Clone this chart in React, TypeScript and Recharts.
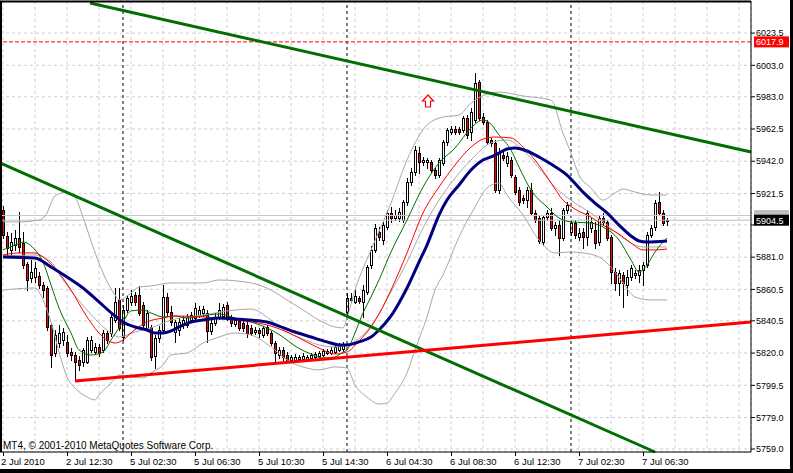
import React from 'react';
import { ComposedChart, Bar, Line, XAxis, YAxis, CartesianGrid, ReferenceLine, ReferenceDot } from 'recharts';

const FONT = '"Liberation Sans", Arial, sans-serif';

// open, high, low, close for each 15-minute bar
const candles: [number, number, number, number][] = [
  [5911.0, 5913.5, 5893.2, 5895.1], [5894.5, 5897.0, 5882.4, 5886.8], [5885.6, 5896.4, 5881.1, 5890.6], [5888.7, 5898.3, 5885.6, 5893.2],
  [5893.2, 5909.7, 5884.3, 5887.5], [5890.0, 5897.0, 5874.1, 5876.0], [5876.7, 5877.9, 5860.1, 5866.5], [5867.7, 5879.2, 5865.2, 5871.6],
  [5868.4, 5877.9, 5865.2, 5874.1], [5869.0, 5871.6, 5861.4, 5863.3], [5863.3, 5865.2, 5855.7, 5860.1], [5861.4, 5862.7, 5834.7, 5836.6],
  [5837.9, 5839.1, 5811.2, 5818.8], [5820.1, 5834.7, 5818.2, 5831.5], [5826.4, 5837.9, 5823.9, 5832.8], [5828.3, 5836.0, 5825.2, 5833.4],
  [5827.1, 5831.5, 5818.2, 5820.1], [5820.7, 5823.2, 5815.6, 5818.8], [5818.8, 5820.7, 5802.3, 5814.3], [5815.6, 5818.2, 5809.3, 5812.4],
  [5814.3, 5823.2, 5811.8, 5822.0], [5814.3, 5830.2, 5813.7, 5828.3], [5822.0, 5830.9, 5820.7, 5828.3], [5820.7, 5826.4, 5819.4, 5823.9],
  [5823.9, 5825.8, 5818.2, 5820.1], [5822.0, 5834.7, 5820.7, 5832.8], [5832.8, 5834.7, 5826.4, 5828.3], [5832.8, 5845.5, 5830.9, 5843.0],
  [5841.0, 5861.4, 5839.8, 5852.5], [5853.8, 5861.4, 5834.7, 5836.0], [5830.2, 5850.6, 5828.3, 5847.4], [5847.4, 5857.0, 5846.1, 5855.0],
  [5852.5, 5860.1, 5850.6, 5856.3], [5857.0, 5858.9, 5850.6, 5852.5], [5857.0, 5862.7, 5844.2, 5845.5], [5850.6, 5852.5, 5836.0, 5837.9],
  [5836.0, 5847.4, 5834.7, 5845.5], [5836.6, 5837.9, 5815.6, 5817.5], [5818.2, 5831.5, 5810.5, 5829.6], [5829.6, 5837.2, 5827.1, 5834.7],
  [5834.7, 5863.3, 5833.4, 5855.7], [5855.7, 5858.2, 5844.2, 5846.1], [5846.1, 5849.9, 5837.9, 5839.8], [5833.4, 5841.0, 5827.1, 5839.8],
  [5834.7, 5842.3, 5831.5, 5839.8], [5838.5, 5843.6, 5836.0, 5841.0], [5837.9, 5844.9, 5836.6, 5843.0], [5841.0, 5846.1, 5839.8, 5844.2],
  [5842.3, 5851.9, 5841.0, 5848.7], [5844.2, 5849.9, 5843.0, 5847.4], [5845.5, 5849.9, 5843.6, 5848.0], [5845.5, 5847.4, 5827.1, 5834.1],
  [5834.1, 5841.0, 5832.2, 5839.1], [5839.1, 5845.5, 5837.9, 5843.0], [5843.0, 5851.9, 5841.7, 5847.4], [5843.6, 5851.2, 5842.3, 5849.3],
  [5850.6, 5852.5, 5841.0, 5842.3], [5843.0, 5844.2, 5837.2, 5839.1], [5838.5, 5842.3, 5837.2, 5841.0], [5840.4, 5841.7, 5834.7, 5836.0],
  [5839.1, 5841.0, 5834.1, 5836.0], [5837.9, 5839.8, 5830.2, 5832.8], [5836.0, 5837.9, 5831.5, 5832.8], [5833.4, 5836.6, 5832.2, 5834.7],
  [5834.7, 5836.0, 5830.2, 5832.8], [5831.5, 5837.2, 5830.2, 5836.0], [5836.6, 5837.9, 5831.5, 5832.8], [5832.8, 5834.1, 5825.2, 5826.4],
  [5826.4, 5827.7, 5814.3, 5820.1], [5818.8, 5823.9, 5816.9, 5822.0], [5822.0, 5823.9, 5815.6, 5817.5], [5818.8, 5820.7, 5814.3, 5815.6],
  [5815.6, 5818.8, 5814.3, 5817.5], [5815.6, 5819.4, 5815.0, 5817.5], [5816.3, 5818.8, 5815.6, 5817.5], [5816.3, 5820.1, 5815.6, 5818.2],
  [5816.3, 5818.8, 5815.6, 5817.5], [5816.9, 5820.1, 5816.3, 5818.8], [5817.5, 5820.7, 5816.9, 5819.4], [5818.2, 5821.3, 5817.5, 5820.1],
  [5818.8, 5822.6, 5818.2, 5821.3], [5820.1, 5822.6, 5819.4, 5821.3], [5820.1, 5823.9, 5819.4, 5822.0], [5820.7, 5825.2, 5820.1, 5823.9],
  [5822.0, 5826.4, 5821.3, 5824.5], [5822.6, 5827.1, 5821.3, 5825.2], [5846.1, 5858.0, 5844.9, 5855.0], [5855.0, 5858.2, 5852.5, 5853.8],
  [5852.5, 5860.1, 5851.9, 5856.3], [5855.0, 5856.3, 5851.9, 5853.1], [5852.5, 5863.3, 5843.0, 5860.1], [5858.9, 5876.0, 5857.6, 5874.7],
  [5876.0, 5888.1, 5874.1, 5885.6], [5885.6, 5902.1, 5884.3, 5899.5], [5897.0, 5900.2, 5891.9, 5893.8], [5891.9, 5903.4, 5889.4, 5901.4],
  [5900.2, 5911.0, 5898.9, 5909.1], [5909.1, 5912.9, 5903.4, 5905.9], [5905.9, 5911.0, 5904.6, 5907.8], [5905.9, 5912.3, 5903.9, 5909.7],
  [5904.6, 5917.3, 5903.4, 5916.1], [5916.1, 5931.3, 5914.2, 5928.8], [5928.8, 5937.7, 5926.9, 5935.1], [5935.1, 5951.7, 5933.2, 5949.1],
  [5947.2, 5951.0, 5934.5, 5941.5], [5941.5, 5944.7, 5939.6, 5942.8], [5941.5, 5944.0, 5937.7, 5942.8], [5941.5, 5942.8, 5935.1, 5936.4],
  [5936.4, 5938.3, 5931.3, 5933.2], [5933.2, 5944.0, 5932.0, 5942.8], [5940.9, 5955.5, 5939.6, 5954.2], [5954.2, 5963.1, 5952.3, 5961.9],
  [5960.6, 5964.4, 5959.3, 5962.5], [5962.5, 5964.4, 5959.3, 5960.6], [5962.5, 5963.8, 5959.3, 5960.6], [5961.9, 5970.7, 5960.6, 5969.5],
  [5969.5, 5971.4, 5956.8, 5958.7], [5960.6, 5975.8, 5955.5, 5973.3], [5968.2, 5998.1, 5966.9, 5991.7], [5992.4, 5993.6, 5968.2, 5969.5],
  [5970.1, 5972.7, 5965.6, 5966.9], [5966.9, 5968.2, 5952.9, 5954.2], [5955.5, 5956.8, 5951.7, 5953.5], [5953.5, 5955.5, 5922.4, 5923.7],
  [5923.7, 5950.4, 5921.7, 5947.9], [5945.9, 5949.1, 5942.8, 5944.0], [5940.9, 5947.9, 5938.9, 5945.3], [5942.8, 5944.7, 5932.0, 5933.2],
  [5932.0, 5933.2, 5921.1, 5922.4], [5923.7, 5925.6, 5914.2, 5916.1], [5918.6, 5920.5, 5915.4, 5917.3], [5917.3, 5925.6, 5912.9, 5923.7],
  [5923.7, 5928.2, 5907.8, 5909.1], [5909.1, 5911.0, 5903.4, 5904.6], [5905.9, 5907.2, 5890.0, 5891.3], [5890.6, 5907.8, 5888.7, 5906.5],
  [5906.5, 5911.0, 5904.6, 5909.1], [5909.1, 5912.3, 5898.3, 5899.5], [5899.5, 5903.4, 5895.1, 5901.4], [5901.4, 5904.6, 5882.4, 5893.2],
  [5893.2, 5912.3, 5891.9, 5911.0], [5911.0, 5916.1, 5909.1, 5914.2], [5897.0, 5904.6, 5895.1, 5902.7], [5902.7, 5904.6, 5893.2, 5895.1],
  [5893.8, 5899.5, 5891.9, 5896.4], [5897.0, 5899.5, 5886.8, 5893.8], [5893.8, 5911.0, 5888.7, 5909.1], [5899.5, 5905.9, 5897.0, 5903.4],
  [5898.3, 5903.4, 5886.8, 5890.0], [5890.6, 5907.8, 5888.7, 5905.9], [5905.9, 5909.1, 5901.4, 5903.4], [5903.4, 5904.6, 5891.9, 5893.2],
  [5893.8, 5895.1, 5864.6, 5871.6], [5871.6, 5874.1, 5860.1, 5864.6], [5864.6, 5872.9, 5857.0, 5870.9], [5869.7, 5871.6, 5849.3, 5864.6],
  [5863.3, 5872.9, 5857.0, 5868.4], [5868.4, 5876.0, 5866.5, 5874.1], [5869.7, 5872.9, 5867.7, 5870.9], [5869.7, 5876.0, 5865.2, 5872.9],
  [5872.9, 5877.9, 5863.3, 5876.0], [5876.0, 5897.0, 5874.7, 5895.1], [5895.1, 5901.4, 5893.8, 5899.5], [5900.2, 5917.3, 5898.3, 5915.4],
  [5916.1, 5922.4, 5907.8, 5909.1], [5909.1, 5911.0, 5901.4, 5902.7], [5903.9, 5905.9, 5901.4, 5904.5],
];

// indicator readings: [bar index, price]
const greenMA: [number, number][] = [
  [0, 5885.6], [3, 5888.7], [5, 5890.6], [8, 5885.6], [10, 5877.9], [12, 5863.3], [14, 5848.7], [17, 5832.8], [19, 5822.0],
  [22, 5818.8], [25, 5820.7], [27, 5828.3], [30, 5839.8], [32, 5846.8], [35, 5847.4], [37, 5845.5], [40, 5843.0], [43, 5843.6],
  [46, 5842.3], [50, 5843.6], [54, 5844.9], [58, 5842.3], [62, 5839.8], [66, 5836.0], [70, 5830.2], [73, 5824.5], [77, 5819.4],
  [80, 5816.9], [83, 5817.5], [85, 5820.7], [86, 5822.0], [88, 5832.8], [90, 5845.5], [92, 5855.7], [94, 5866.5], [97, 5884.3],
  [101, 5904.6], [105, 5925.6], [109, 5940.9], [113, 5950.4], [117, 5963.1], [120, 5968.2], [122, 5965.6], [124, 5958.7],
  [127, 5949.1], [129, 5938.3], [132, 5923.7], [136, 5912.9], [139, 5905.9], [142, 5903.4], [147, 5902.7], [150, 5900.2],
  [154, 5891.9], [157, 5879.2], [159, 5871.6], [161, 5876.0], [163, 5884.3], [166, 5893.2],
];
const redMA: [number, number][] = [
  [0, 5882.4], [4, 5883.7], [8, 5883.7], [10, 5881.1], [13, 5874.1], [17, 5860.1], [21, 5843.0], [25, 5830.2], [28, 5826.4],
  [30, 5828.3], [32, 5832.8], [36, 5839.8], [40, 5842.3], [43, 5843.6], [50, 5843.0], [58, 5841.0], [66, 5837.9], [71, 5833.4],
  [75, 5828.3], [79, 5823.2], [83, 5819.4], [86, 5820.7], [89, 5827.7], [92, 5836.6], [94, 5844.9], [97, 5860.1], [101, 5883.7],
  [105, 5909.1], [109, 5925.6], [113, 5939.6], [117, 5951.0], [120, 5956.1], [123, 5957.4], [127, 5956.8], [130, 5951.0],
  [133, 5942.8], [137, 5928.2], [140, 5917.3], [143, 5911.6], [147, 5906.5], [150, 5901.4], [154, 5895.7], [157, 5890.0],
  [160, 5885.6], [163, 5885.6], [166, 5886.2],
];
const navyMA: [number, number][] = [
  [0, 5881.1], [8, 5880.5], [12, 5874.7], [16, 5868.4], [20, 5861.4], [24, 5852.5], [28, 5843.6], [30, 5839.8], [33, 5836.6],
  [36, 5834.7], [38, 5832.8], [40, 5832.8], [42, 5834.1], [44, 5836.6], [47, 5839.8], [50, 5841.0], [54, 5842.3], [58, 5841.7],
  [62, 5841.0], [66, 5839.8], [69, 5837.2], [73, 5833.4], [77, 5830.2], [81, 5827.1], [84, 5825.2], [86, 5825.2], [89, 5827.1],
  [92, 5830.2], [94, 5834.7], [97, 5843.6], [99, 5851.9], [101, 5861.4], [104, 5877.9], [106, 5888.7], [109, 5907.8],
  [111, 5917.3], [114, 5926.9], [117, 5936.4], [120, 5942.8], [122, 5944.7], [124, 5947.2], [126, 5949.8], [128, 5950.4],
  [131, 5948.5], [134, 5944.7], [137, 5940.2], [141, 5933.2], [145, 5922.4], [148, 5915.4], [151, 5909.1], [154, 5901.4],
  [157, 5894.5], [159, 5891.3], [161, 5890.6], [166, 5891.3],
];
const bandUpper: [number, number][] = [
  [0, 5903.4], [4, 5903.4], [9, 5904.6], [11, 5909.1], [12, 5915.4], [13, 5919.9], [16, 5922.4], [18, 5919.2], [20, 5906.5],
  [22, 5891.3], [25, 5870.9], [28, 5857.0], [29, 5853.8], [32, 5858.2], [34, 5862.0], [37, 5862.7], [42, 5864.6], [50, 5864.6],
  [54, 5866.5], [62, 5864.6], [67, 5860.1], [71, 5853.8], [75, 5847.4], [79, 5841.0], [83, 5836.6], [85, 5836.0], [86, 5842.3],
  [88, 5860.1], [92, 5885.6], [97, 5915.4], [101, 5942.8], [106, 5965.0], [110, 5970.1], [114, 5971.4], [117, 5979.0],
  [121, 5984.7], [124, 5986.0], [130, 5983.5], [137, 5980.9], [140, 5959.9], [142, 5947.2], [144, 5933.2], [147, 5925.0],
  [150, 5917.3], [153, 5921.8], [155, 5924.3], [158, 5922.4], [162, 5920.5], [166, 5920.5],
];
const bandMiddle: [number, number][] = [
  [0, 5881.7], [8, 5882.4], [12, 5877.9], [15, 5866.5], [21, 5847.4], [27, 5832.8], [29, 5830.2], [33, 5833.4], [37, 5836.0],
  [42, 5841.0], [50, 5844.2], [58, 5847.4], [62, 5848.0], [67, 5841.0], [71, 5833.4], [75, 5829.0], [79, 5825.2], [83, 5823.9],
  [86, 5825.2], [90, 5831.5], [93, 5841.0], [97, 5858.9], [101, 5877.9], [105, 5899.5], [109, 5917.3], [113, 5931.3],
  [117, 5942.8], [122, 5953.6], [126, 5955.5], [130, 5949.1], [134, 5937.7], [138, 5925.6], [143, 5915.4], [147, 5909.1],
  [151, 5901.4], [155, 5893.2], [160, 5887.5], [166, 5887.5],
];
const bandLower: [number, number][] = [
  [0, 5860.1], [8, 5861.4], [9, 5858.9], [11, 5847.4], [12, 5839.8], [14, 5820.7], [16, 5804.8], [18, 5797.8], [21, 5792.1],
  [23, 5790.2], [24, 5793.4], [27, 5801.0], [29, 5806.1], [32, 5804.8], [35, 5804.2], [37, 5807.4], [40, 5812.4], [42, 5818.8],
  [46, 5820.1], [50, 5826.4], [54, 5830.2], [58, 5832.8], [62, 5831.5], [67, 5823.9], [71, 5815.6], [75, 5811.2], [79, 5809.3],
  [83, 5811.2], [86, 5810.5], [88, 5799.7], [91, 5792.1], [94, 5787.6], [96, 5788.3], [98, 5794.6], [101, 5807.4], [103, 5822.0],
  [106, 5843.0], [108, 5860.1], [110, 5869.7], [114, 5893.8], [118, 5912.9], [121, 5925.0], [124, 5928.2], [126, 5920.5],
  [130, 5907.8], [134, 5891.9], [138, 5883.7], [142, 5884.3], [145, 5883.7], [149, 5881.1], [152, 5874.7], [155, 5864.6],
  [158, 5855.7], [162, 5853.8], [166, 5853.8],
];

const timeLabels = ['2 Jul 2010', '2 Jul 12:30', '5 Jul 02:30', '5 Jul 06:30', '5 Jul 10:30', '5 Jul 14:30', '6 Jul 04:30', '6 Jul 08:30', '6 Jul 12:30', '7 Jul 02:30', '7 Jul 06:30'];
const timeLabelBars = [0, 16, 32, 48, 64, 80, 96, 112, 128, 144, 160];
const gridBars = [0, 8, 16, 24, 32, 40, 48, 56, 64, 72, 80, 88, 96, 104, 112, 120, 128, 136, 144, 152, 160, 168, 176, 184];
const daySeparators = [30, 86, 142];
const priceTicks = [6023.5, 6003.0, 5983.0, 5962.5, 5942.0, 5921.5, 5901.5, 5881.0, 5860.5, 5840.5, 5820.0, 5799.5, 5779.0, 5759.0];
// this tick sits under the current-price tag, so its label is covered
const coveredTick = 5901.5;

const alertLevel = 6017.9;
const askPrice = 5907.5;
const bidPrice = 5904.5;
const upperTrend: [number, number][] = [[21.75, 6042.6], [187, 5947.9]];
const lowerTrend: [number, number][] = [[-0.75, 5940.9], [163, 5757.1]];
const supportTrend: [number, number][] = [[18, 5802.3], [187, 5839.8]];
const arrowMark: [number, number] = [106.25, 5980.3];

const X_DOMAIN: [number, number] = [-0.75, 187];
const Y_DOMAIN: [number, number] = [5757.1, 6043.9];

const rows: any[] = candles.map(([o, h, l, c], i) => ({ i, o, h, l, c, range: [l, h] }));
const put = (arr: [number, number][], key: string) => arr.forEach(([i, v]) => { rows[i][key] = v; });
put(greenMA, 'g');
put(redMA, 'r');
put(navyMA, 'n');
put(bandUpper, 'bu');
put(bandMiddle, 'bm');
put(bandLower, 'bl');

const Candle = (props: any) => {
  const { x, y, width, height, payload } = props;
  if (!payload || x == null || y == null) return <g />;
  const { o, h, l, c } = payload;
  const cx = Math.round(x + width / 2);
  const top = Math.min(y, y + height);
  const hgt = Math.abs(height);
  const span = h - l;
  const k = span > 0 ? hgt / span : 0;
  const yO = top + (h - o) * k;
  const yC = top + (h - c) * k;
  const bTop = Math.round(Math.min(yO, yC));
  const bBot = Math.round(Math.max(yO, yC));
  const bull = c >= o;
  return (
    <g shapeRendering="crispEdges">
      <line x1={cx + 0.5} x2={cx + 0.5} y1={Math.round(top)} y2={Math.round(top + hgt) + 1} stroke="#000" strokeWidth={1} />
      <rect x={cx - 0.5} y={bTop + 0.5} width={2} height={Math.max(0, bBot - bTop)} fill={bull ? '#ffffff' : '#ff0000'} stroke="#000" strokeWidth={1} />
    </g>
  );
};

const TimeTick = (props: any) => {
  const { x, y, payload } = props;
  const idx = timeLabelBars.indexOf(payload?.value);
  if (idx < 0) return <g />;
  const px = Math.round(x);
  return (
    <g>
      <line x1={px + 0.5} x2={px + 0.5} y1={y - 4} y2={y} stroke="#000" strokeWidth={1} shapeRendering="crispEdges" />
      <text x={idx === 0 ? px - 2 : px - 1} y={y + 9} fill="#000" fontSize={9.5} fontFamily={FONT} textAnchor="start">{timeLabels[idx]}</text>
    </g>
  );
};

const priceTag = (text: string, bg: string) => (props: any) => {
  const vb = props.viewBox;
  if (!vb) return null;
  const x = vb.x + vb.width + 3;
  const y = vb.y;
  return (
    <g>
      <rect x={x} y={y - 5.5} width={35} height={11} fill={bg} />
      {text ? <text x={x + 2} y={y + 3.5} fill="#fff" fontSize={9} fontFamily={FONT}>{text}</text> : null}
    </g>
  );
};

const ArrowUp = (props: any) => {
  const { cx, cy } = props;
  if (cx == null || cy == null) return <g />;
  return (
    <path
      d="M0,-6 L5.5,0 L2.5,0 L2.5,6 L-2.5,6 L-2.5,0 L-5.5,0 Z"
      transform={`translate(${cx},${cy})`}
      fill="#ffffff"
      stroke="#ff0000"
      strokeWidth={1.2}
    />
  );
};

const seg = (a: [number, number][]) => a.map(([x, y]) => ({ x, y }));

export default function App() {
  return (
    <div style={{ position: 'absolute', left: 0, top: 0, width: 793, height: 473, background: '#000', overflow: 'hidden' }}>
      <div style={{ position: 'absolute', left: 0, top: 0, width: 790, height: 469, background: '#fff' }} />
      <div style={{ position: 'absolute', left: 0, top: 0 }}>
        <ComposedChart width={793} height={473} data={rows} margin={{ top: 1, right: 0, bottom: 0, left: 0 }}>
          <CartesianGrid stroke="#cfcfcf" strokeDasharray="3 3" />
          <XAxis
            dataKey="i"
            type="number"
            domain={X_DOMAIN}
            allowDataOverflow
            ticks={gridBars}
            interval={0}
            tick={<TimeTick />}
            tickLine={false}
            tickSize={4}
            tickMargin={0}
            axisLine={{ stroke: '#000' }}
            height={21}
          />
          <YAxis
            orientation="right"
            type="number"
            domain={Y_DOMAIN}
            allowDataOverflow
            ticks={priceTicks}
            interval={0}
            width={42}
            tickSize={4}
            tickMargin={1}
            tick={{ fill: '#000', fontSize: 9, fontFamily: FONT }}
            tickFormatter={(v: number) => (v === coveredTick ? '' : v.toFixed(1))}
            axisLine={{ stroke: '#000' }}
            tickLine={{ stroke: '#000' }}
          />
          {daySeparators.map((d) => (
            <ReferenceLine key={'sep' + d} x={d} stroke="#000" strokeDasharray="3 3" strokeWidth={1} />
          ))}
          <ReferenceLine y={alertLevel} stroke="#ff0000" strokeDasharray="4 2" strokeWidth={1} label={priceTag('6017.9', '#ff0000')} />
          <ReferenceLine y={askPrice} stroke="#c8c8c8" strokeWidth={1} label={priceTag('', '#c0c0c0')} />
          <ReferenceLine y={bidPrice} stroke="#c0c0c0" strokeWidth={1} label={priceTag('5904.5', '#000000')} />
          <Bar dataKey="range" barSize={3} shape={(p: any) => <Candle {...p} />} isAnimationActive={false} />
          <Line dataKey="bu" type="monotone" stroke="#a9a9a9" strokeWidth={1} dot={false} activeDot={false} connectNulls isAnimationActive={false} />
          <Line dataKey="bm" type="monotone" stroke="#a9a9a9" strokeWidth={1} dot={false} activeDot={false} connectNulls isAnimationActive={false} />
          <Line dataKey="bl" type="monotone" stroke="#a9a9a9" strokeWidth={1} dot={false} activeDot={false} connectNulls isAnimationActive={false} />
          <Line dataKey="g" type="monotone" stroke="#007000" strokeWidth={1} dot={false} activeDot={false} connectNulls isAnimationActive={false} />
          <Line dataKey="r" type="monotone" stroke="#ff0000" strokeWidth={1} dot={false} activeDot={false} connectNulls isAnimationActive={false} />
          <Line dataKey="n" type="monotone" stroke="#000080" strokeWidth={3} dot={false} activeDot={false} connectNulls isAnimationActive={false} />
          <ReferenceLine segment={seg(upperTrend)} stroke="#006e00" strokeWidth={3} />
          <ReferenceLine segment={seg(lowerTrend)} stroke="#006e00" strokeWidth={3} />
          <ReferenceLine segment={seg(supportTrend)} stroke="#ff0000" strokeWidth={3} />
          <ReferenceDot x={arrowMark[0]} y={arrowMark[1]} r={6} shape={(p: any) => <ArrowUp {...p} />} />
          <ReferenceLine x={-0.5} stroke="#000" strokeWidth={2} />
          <ReferenceLine y={6043.6} stroke="#000" strokeWidth={2} />
        </ComposedChart>
      </div>
      <svg width={793} height={473} style={{ position: 'absolute', left: 0, top: 0, pointerEvents: 'none' }}>
        <text x={3} y={449} fill="#000" fontSize={10} fontFamily={FONT}>MT4, © 2001-2010 MetaQuotes Software Corp.</text>
      </svg>
    </div>
  );
}
